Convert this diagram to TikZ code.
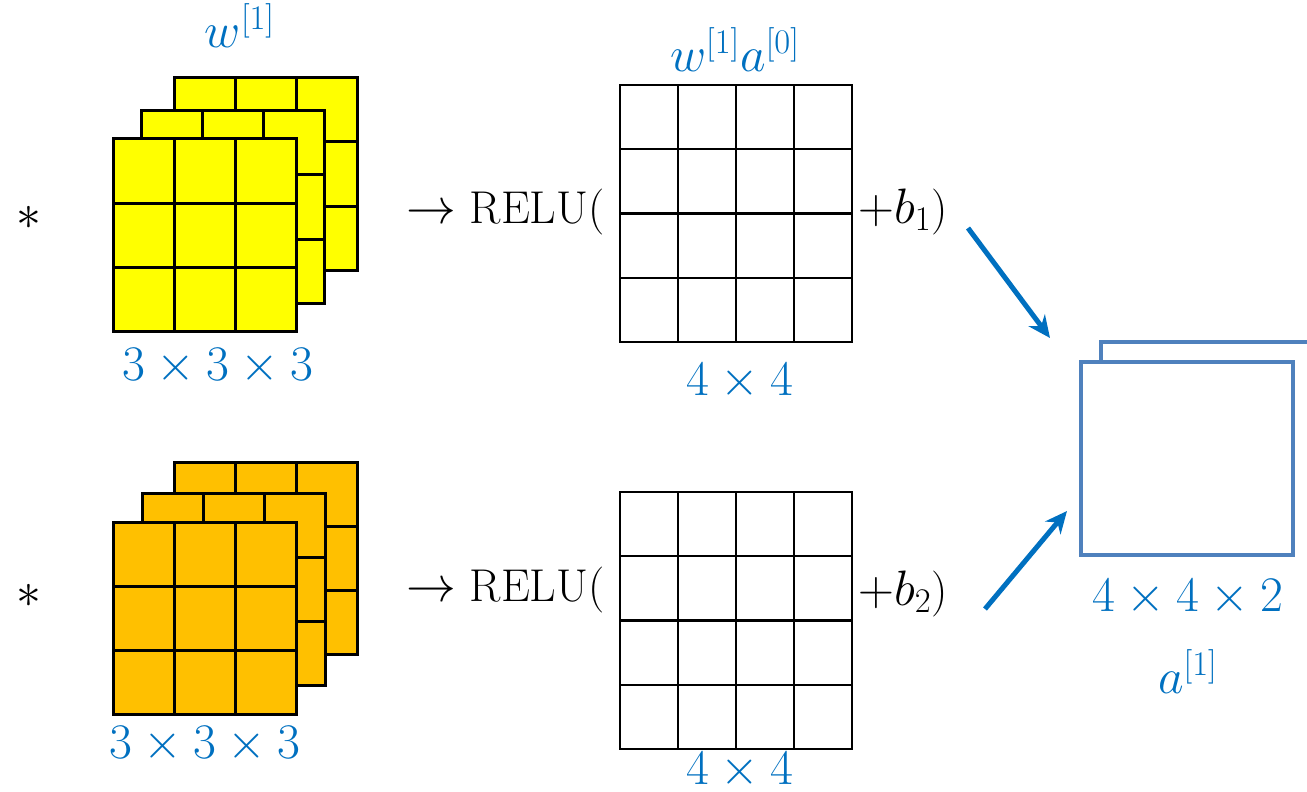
\documentclass[tikz,border=0pt]{standalone}
\usepackage{amsmath,amssymb}
\usepackage{xcolor}
\definecolor{dimblue}{RGB}{0,112,192}
\definecolor{mapblue}{RGB}{79,129,189}
\definecolor{filtyellow}{RGB}{255,255,0}
\definecolor{filtorange}{RGB}{255,192,0}
\usepackage{tikz}
\usetikzlibrary{positioning,arrows.meta,calc}

% one 3x3 filter slice, top-left corner at (#1,#2)
\newcommand{\filterslice}[3]{%
  \filldraw[fill=#3, draw=black, line width=1.5pt] (#1,#2) rectangle ++(183,192);
  \foreach \k in {1,2} {
    \draw[line width=1.5pt] (#1+\k*61,#2) -- ++(0,192);
    \draw[line width=1.5pt] (#1,#2+\k*64) -- ++(183,0);
  }%
}
% one 4x4 output grid, top-left corner at (#1,#2)
\newcommand{\featgrid}[2]{%
  \draw[line width=1.2pt] (#1,#2) rectangle ++(232,257);
  \foreach \k in {1,2,3} {
    \draw[line width=1.2pt] (#1+\k*58,#2) -- ++(0,257);
    \draw[line width=1.2pt] (#1,#2+\k*64.25) -- ++(232,0);
  }%
}

\begin{document}
\begin{tikzpicture}[x=0.5pt, y=-0.5pt, font=\fontsize{23}{27}\selectfont,
  dimlabel/.style={text=dimblue, inner sep=1pt},
  feed/.style={draw=dimblue, line width=2.5pt, -{Stealth[length=11pt,width=10pt]}}]
\useasboundingbox (0,0) rectangle (1307,792);

% filters
\filterslice{174}{78}{filtyellow}
\filterslice{141}{111}{filtyellow}
\filterslice{113}{139}{filtyellow}
\filterslice{174}{462}{filtorange}
\filterslice{142}{493}{filtorange}
\filterslice{113}{522}{filtorange}

\node[dimlabel] (wone) at (240,26) {$w^{[1]}$};
\node[dimlabel] (dimA) at (218,367) {$3\times3\times3$};
\node[dimlabel] (dimB) at (205,745) {$3\times3\times3$};
\node (starA) at (29,218) {\fontsize{36}{36}\selectfont$\ast$};
\node (starB) at (29,596) {\fontsize{36}{36}\selectfont$\ast$};

% relu terms
\featgrid{620}{85}
\featgrid{620}{492}
\node[dimlabel] (prodA) at (735,50) {$w^{[1]}a^{[0]}$};
\node[dimlabel] (dimC) at (740,382) {$4\times4$};
\node[dimlabel] (dimD) at (740,771) {$4\times4$};
\node[anchor=east, inner sep=1pt] (reluA) at (607,212) {$\rightarrow$ RELU(};
\node[anchor=west, inner sep=1pt] (biasA) at (856,212) {$+b_1$)};
\node[anchor=east, inner sep=1pt] (reluB) at (607,590) {$\rightarrow$ RELU(};
\node[anchor=west, inner sep=1pt] (biasB) at (856,594) {$+b_2$)};

% output volume
\draw[mapblue, line width=2pt] (1101,534) -- (1101,342) -- (1330,342) -- (1330,534);
\node[draw=mapblue, fill=white, line width=2pt, minimum width=106pt, minimum height=96.5pt,
  inner sep=0pt] (aout) at (1187,458.5) {};
\node[dimlabel] (dimE) at (1188,598) {$4\times4\times2$};
\node[dimlabel] (aone) at (1188,672) {$a^{[1]}$};

\coordinate (fromA) at (968,228);
\coordinate (toA) at (1050,338);
\coordinate (fromB) at (985,609);
\coordinate (toB) at (1067,511);
\draw[feed] (fromA) -- (toA);
\draw[feed] (fromB) -- (toB);
\end{tikzpicture}
\end{document}
